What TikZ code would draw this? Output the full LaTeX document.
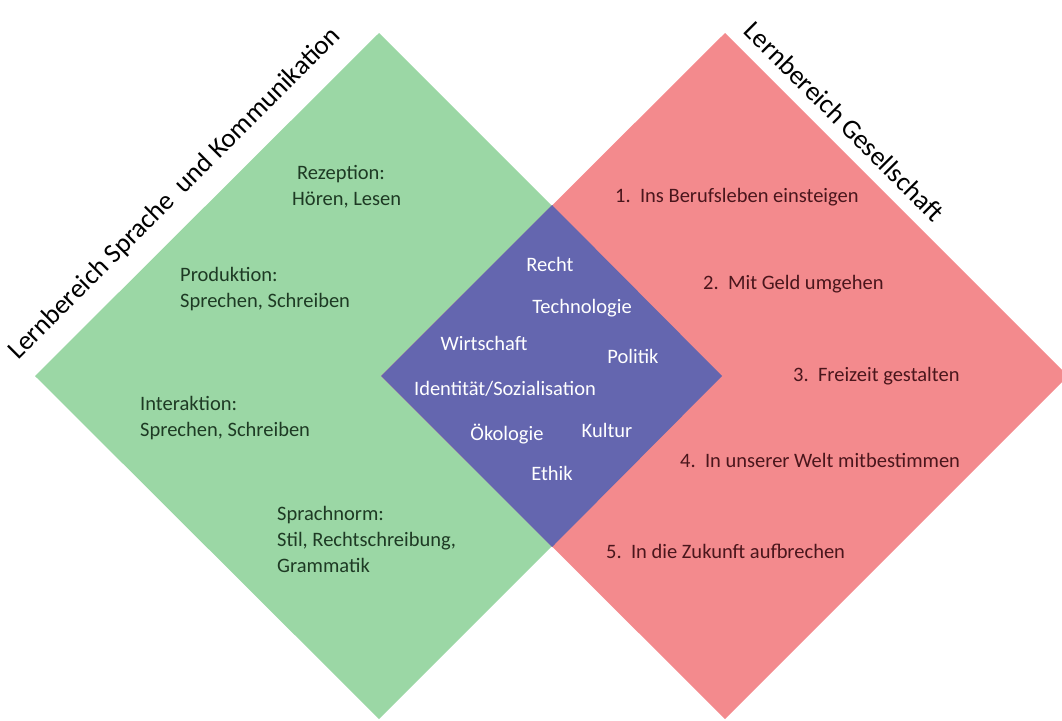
\documentclass[tikz,border=0pt]{standalone}
\usepackage{fontspec}
\setmainfont{Carlito}
\definecolor{lbgreen}{HTML}{9BD7A5}
\definecolor{lbred}{HTML}{F38A8D}
\definecolor{lbblue}{HTML}{6466AF}
\definecolor{greentext}{HTML}{1E3A24}
\definecolor{redtext}{HTML}{4A161C}
\begin{document}
\begin{tikzpicture}[x=1pt, y=-1pt,
    title/.style={font=\fontsize{27}{32}\selectfont, inner sep=0pt, anchor=base},
    lefttext/.style={font=\fontsize{20.5}{26}\selectfont, text=greentext, align=left, anchor=west, inner sep=0pt},
    righttext/.style={font=\fontsize{20.5}{26}\selectfont, text=redtext, anchor=west, inner sep=0pt, text height=15pt, text depth=5pt},
    midtext/.style={font=\fontsize{20.5}{26}\selectfont, text=white, inner sep=0pt, text height=15pt, text depth=5pt}]
  \useasboundingbox (0,0) rectangle (1062,720);

  % two learning fields and their overlap
  \fill[lbgreen] (379,33) -- (35,376) -- (379,719) -- (722,376) -- cycle;
  \fill[lbred] (725,33) -- (381,376) -- (725,719) -- (1068,376) -- cycle;
  \fill[lbblue] (552,205) -- (381,376) -- (552,547) -- (722,376) -- cycle;

  \node[title, rotate=45] (sprache) at (180,199) {Lernbereich Sprache\ \ und Kommunikation};
  \node[title, rotate=-45] (gesellschaft) at (838,128) {Lernbereich Gesellschaft};

  \node[lefttext] (rezeption) at (292,187) {\hspace*{5pt}Rezeption:\\Hören, Lesen};
  \node[lefttext] (produktion) at (180,289) {Produktion:\\Sprechen, Schreiben};
  \node[lefttext] (interaktion) at (140,418) {Interaktion:\\Sprechen, Schreiben};
  \node[lefttext] (sprachnorm) at (277,539) {Sprachnorm:\\Stil, Rechtschreibung,\\Grammatik};

  \foreach \name/\word/\xpos/\ypos in {
    recht/Recht/550/266, technologie/Technologie/582/308, wirtschaft/Wirtschaft/484/345,
    politik/Politik/633/358, identitaet/{Identität/Sozialisation}/505/390,
    oekologie/Ökologie/507/435, kultur/Kultur/607/432, ethik/Ethik/552/475}
    \node[midtext] (\name) at (\xpos,\ypos) {\word};

  \node[righttext] (beruf) at (615,197) {1.~~Ins Berufsleben einsteigen};
  \node[righttext] (geld) at (703,284) {2.~~Mit Geld umgehen};
  \node[righttext] (freizeit) at (793,376) {3.~~Freizeit gestalten};
  \node[righttext] (welt) at (680,462) {4.~~In unserer Welt mitbestimmen};
  \node[righttext] (zukunft) at (606,553) {5.~~In die Zukunft aufbrechen};
\end{tikzpicture}
\end{document}
